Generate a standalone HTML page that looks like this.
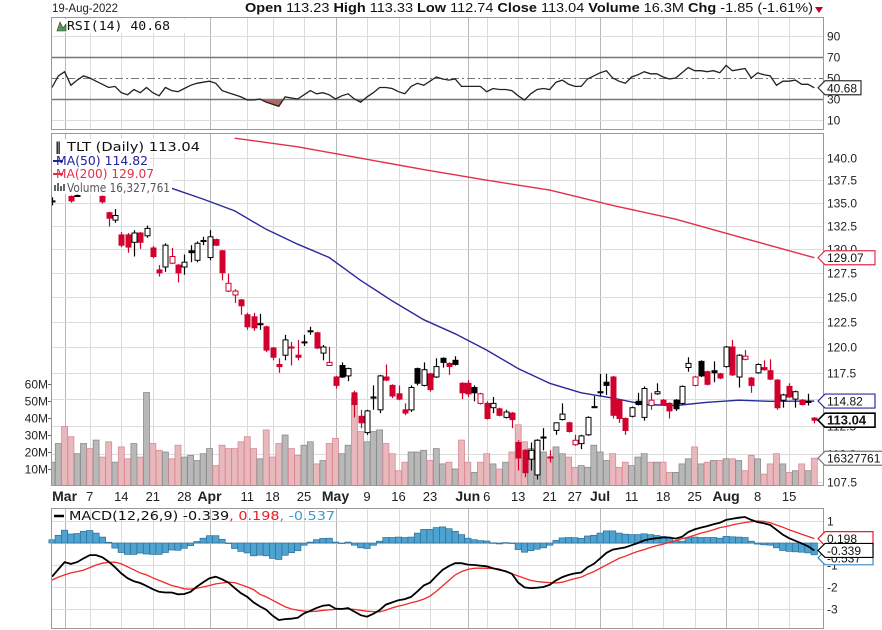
<!DOCTYPE html>
<html><head><meta charset="utf-8"><style>
html,body{margin:0;padding:0;background:#fff;}
svg{display:block;}
text{font-family:"Liberation Sans",sans-serif;}
</style></head><body>
<svg id="chart" width="882" height="630" viewBox="0 0 882 630" xmlns="http://www.w3.org/2000/svg">
<rect x="0" y="0" width="882" height="630" fill="#fff"/>
<g id="grid"></g>
<g id="rsiG"></g>
<g id="volG" clip-path="url(#mainClip)"></g>
<g id="maG" clip-path="url(#mainClip)"></g>
<g id="candleG" clip-path="url(#mainClip)"></g>
<g id="macdG"></g>
<g id="axisG"></g>
<defs>
<clipPath id="mainClip"><rect x="51" y="133" width="772" height="352"/></clipPath>
<clipPath id="rsiLow"><rect x="51" y="99" width="772" height="30"/></clipPath>
<clipPath id="macdClip"><rect x="51" y="508" width="772" height="120"/></clipPath>
</defs>
<!-- header -->
<text x="52" y="12" font-size="12" fill="#222" textLength="66" lengthAdjust="spacingAndGlyphs">19-Aug-2022</text>
<text x="245" y="12" font-size="13" fill="#111" textLength="568" lengthAdjust="spacingAndGlyphs"><tspan font-weight="bold">Open</tspan> 113.23 <tspan font-weight="bold">High</tspan> 113.33 <tspan font-weight="bold">Low</tspan> 112.74 <tspan font-weight="bold">Close</tspan> 113.04 <tspan font-weight="bold">Volume</tspan> 16.3M <tspan font-weight="bold">Chg</tspan> -1.85 (-1.61%)</text>
<polygon points="815,7 823,7 819,13" fill="#c0002a"/>
<!-- legends -->
<g>
<rect x="54" y="19" width="132" height="14" fill="#fff"/>
<polygon points="57,31 60,22 63,28 66,24 66,31" fill="#5a9a5a" stroke="#333" stroke-width="0.6"/>
<text x="67" y="30" font-size="12" fill="#111" style="font-family:'DejaVu Sans Mono',monospace" textLength="103" lengthAdjust="spacingAndGlyphs">RSI(14) 40.68</text>
</g>
<g>
<rect x="52" y="139" width="150" height="14" fill="#fff"/>
<text x="55" y="151" font-size="12" fill="#111" style="font-family:'DejaVu Sans',sans-serif" font-weight="bold">‖</text>
<text x="67" y="151" font-size="12" fill="#111" style="font-family:'DejaVu Sans',sans-serif" textLength="133" lengthAdjust="spacingAndGlyphs">TLT (Daily) 113.04</text>
<rect x="52" y="154" width="98" height="13" fill="#fff"/>
<line x1="53" y1="161" x2="63" y2="161" stroke="#22229a" stroke-width="2"/>
<text x="56" y="165" font-size="12" fill="#22229a" style="font-family:'DejaVu Sans',sans-serif" textLength="92" lengthAdjust="spacingAndGlyphs">MA(50) 114.82</text>
<rect x="52" y="167" width="104" height="13" fill="#fff"/>
<line x1="53" y1="174" x2="63" y2="174" stroke="#e0304a" stroke-width="2"/>
<text x="56" y="178" font-size="12" fill="#e0304a" style="font-family:'DejaVu Sans',sans-serif" textLength="98" lengthAdjust="spacingAndGlyphs">MA(200) 129.07</text>
<rect x="52" y="180" width="120" height="14" fill="#fff"/>
<rect x="54" y="185" width="2" height="6" fill="#666"/><rect x="57" y="183" width="2" height="8" fill="#666"/><rect x="60" y="186" width="2" height="5" fill="#666"/><rect x="63" y="184" width="2" height="7" fill="#666"/>
<text x="67" y="192" font-size="12" fill="#555" style="font-family:'DejaVu Sans',sans-serif" textLength="103" lengthAdjust="spacingAndGlyphs">Volume 16,327,761</text>
</g>
<g>
<line x1="54" y1="516" x2="64" y2="516" stroke="#000" stroke-width="2.5"/>
<text x="69" y="520" font-size="12" style="font-family:'DejaVu Sans',sans-serif" textLength="266" lengthAdjust="spacingAndGlyphs"><tspan fill="#111">MACD(12,26,9) -0.339</tspan><tspan fill="#e8202a">, 0.198</tspan><tspan fill="#3c9ad0">, -0.537</tspan></text>
</g>
<g id="tagG"></g>
<script>
// ---------- data ----------
const open  = [135.2,136.5,136.8,135.7,135.8,136.6,136.5,136.4,135.7,133.9,133.1,131.5,131.5,130.7,131.7,131.4,130.1,127.8,128.1,128.5,128.3,128.1,129.8,128.8,130.9,129.1,131.0,129.8,125.6,125.2,124.7,123.2,123.0,122.3,122.0,119.9,118.3,119.2,120.0,119.2,120.5,121.6,121.4,119.4,118.2,117.1,118.2,117.2,115.6,113.4,111.9,115.2,114.0,117.1,116.3,115.5,114.0,114.0,117.9,116.3,117.4,117.1,118.9,118.4,118.7,116.5,116.5,116.1,114.6,114.6,114.2,114.1,113.3,113.7,111.0,110.3,109.5,108.1,111.5,109.7,112.1,113.1,112.8,110.8,110.9,111.7,114.3,115.7,116.6,117.1,114.9,113.2,113.4,114.8,113.3,114.4,115.5,114.9,114.6,114.9,114.6,118.0,116.3,118.6,117.6,117.7,117.4,118.1,120.0,117.1,118.8,117.0,117.5,118.0,117.7,116.8,114.9,116.2,115.0,114.9,114.8,113.23];
const high  = [135.6,137.0,137.0,135.8,135.9,137.0,136.9,136.8,135.8,134.0,134.3,131.8,131.7,132.0,131.8,132.5,130.3,128.3,130.6,130.1,128.4,129.4,130.4,130.8,131.3,132.0,131.1,129.9,127.4,125.8,124.8,123.4,123.4,123.3,122.1,120.0,118.9,121.2,120.5,120.7,121.2,122.0,121.5,120.2,120.0,117.2,118.5,118.0,115.8,114.0,114.0,116.3,117.3,118.3,116.4,116.3,114.6,116.3,118.0,118.5,117.5,118.9,119.0,118.5,119.1,116.6,116.8,116.3,115.6,114.8,115.2,114.2,114.0,113.8,111.2,110.4,111.0,111.3,112.3,110.3,112.8,114.6,112.9,111.7,111.7,113.4,115.3,117.4,117.4,117.2,115.0,113.3,114.3,115.6,116.2,115.6,116.5,115.0,114.7,115.0,116.3,119.0,117.2,118.7,117.7,118.6,117.5,120.1,120.7,119.3,119.7,117.1,118.4,118.7,118.8,116.9,115.5,116.5,115.8,115.0,115.5,113.33];
const low   = [134.7,136.0,136.2,135.0,135.7,136.2,136.0,136.0,134.9,132.4,132.8,130.2,129.6,129.2,130.0,131.2,129.0,127.1,127.6,128.4,126.5,127.3,128.6,128.6,130.4,128.8,130.3,126.7,125.5,124.4,123.2,121.7,121.6,121.7,119.5,118.7,117.5,118.7,118.2,118.7,120.1,121.2,119.8,118.7,118.2,116.0,117.0,116.7,113.3,112.3,111.7,114.0,113.7,116.7,115.1,114.9,113.5,113.8,116.3,116.2,115.7,117.0,118.0,117.3,118.2,115.0,115.2,114.8,114.5,113.1,113.7,113.4,113.2,112.3,108.5,107.9,108.5,107.7,110.3,109.2,111.7,113.0,111.9,110.7,110.4,111.6,114.2,115.3,115.4,113.2,112.8,111.7,113.3,114.4,113.0,114.0,115.4,114.4,113.2,113.9,114.5,117.6,116.2,117.1,116.3,116.6,116.9,118.0,117.2,116.1,118.7,115.6,117.4,117.7,116.8,114.0,114.2,115.1,114.2,114.4,114.4,112.74];
const close = [135.1,136.8,136.4,135.2,135.8,136.5,136.2,136.6,135.1,133.3,133.6,130.4,130.2,131.7,130.7,132.2,129.2,127.5,130.4,129.2,127.5,128.6,129.6,130.6,130.8,131.3,130.4,127.5,126.4,125.6,124.1,122.0,121.9,122.2,119.7,119.0,118.1,120.7,119.9,119.0,120.4,121.5,119.9,120.0,118.5,116.3,117.1,117.9,114.5,112.8,113.9,115.1,117.2,116.8,115.3,115.0,113.7,116.1,116.5,117.8,115.9,118.1,118.5,118.1,118.3,115.6,115.5,115.6,115.5,113.2,114.6,113.5,113.8,113.1,109.6,108.3,110.3,111.2,111.4,109.6,112.8,113.6,112.0,111.2,111.6,113.3,114.2,115.6,116.3,113.5,113.2,112.1,114.2,114.5,116.0,114.9,115.7,114.5,113.9,114.1,116.2,118.4,117.1,117.2,116.4,117.5,117.0,120.0,117.3,119.2,119.1,116.3,118.3,117.8,116.9,114.2,115.4,115.2,115.7,114.5,114.7,113.04];
const volume = [14,25,35,29,19,25,22,27,17,26,14,23,16,25,17,55,25,21,20,16,24,17,18,15,19,22,12,24,22,22,26,29,22,16,33,17,25,30,22,18,24,26,13,15,25,28,19,24,52,32,26,32,33,25,19,9,14,20,20,21,15,22,13,14,10,27,14,8,14,19,13,10,14,20,36,26,22,27,20,17,23,19,17,11,12,11,24,20,15,19,11,14,12,17,19,14,14,14,8,8,13,16,23,13,14,15,15,16,16,15,9,18,16,7,13,19,13,8,9,13,9,16.33];
const ma50Idx = [19,24,29,34,39,44,49,54,59,64,69,74,79,84,89,94,99,104,109,114,121];
const ma50Val = [136.6,135.4,134.1,132.1,130.5,129.1,126.7,124.6,122.7,121.3,119.7,117.9,116.5,115.6,115.1,114.5,114.4,114.7,114.9,114.8,114.82];
const ma200Idx = [29,39,49,59,69,79,89,99,109,121];
const ma200Val = [142.3,141.3,140.0,138.7,137.5,136.4,134.7,133.2,131.3,129.07];
const rsi = [41,52,56,43,48,52,50,47,44,41,42,36,34,39,36,41,36,33,41,38,37,40,43,45,46,47,45,38,36,34,32,29,29,30,27,25,23,32,31,30,34,38,35,36,34,30,33,35,30,27,32,36,41,41,40,37,35,42,45,43,47,51,49,48,49,42,42,42,42,37,40,39,39,38,33,29,35,39,40,39,46,48,44,42,42,49,52,55,57,50,47,45,51,53,56,54,54,51,49,50,55,60,57,57,56,57,55,62,57,58,59,50,55,53,52,43,47,47,48,44,44,40.68];
const macd = [-1.53,-1.2,-0.87,-0.95,-0.87,-0.7,-0.55,-0.55,-0.65,-0.85,-1.1,-1.38,-1.6,-1.74,-1.82,-1.95,-2.1,-2.22,-2.25,-2.25,-2.33,-2.32,-2.22,-1.98,-1.78,-1.6,-1.53,-1.65,-1.8,-2.05,-2.28,-2.45,-2.7,-2.88,-3.03,-3.3,-3.5,-3.46,-3.44,-3.4,-3.2,-3.08,-2.95,-2.85,-2.82,-2.98,-3.0,-2.96,-3.12,-3.28,-3.35,-3.22,-3.05,-2.8,-2.7,-2.6,-2.55,-2.45,-2.2,-1.93,-1.8,-1.5,-1.22,-1.05,-0.92,-0.92,-0.98,-1.0,-1.03,-1.06,-1.15,-1.22,-1.28,-1.4,-1.8,-2.02,-2.05,-2.03,-2.0,-1.9,-1.7,-1.55,-1.45,-1.38,-1.34,-1.1,-0.95,-0.7,-0.45,-0.3,-0.25,-0.2,-0.1,0.0,0.12,0.18,0.22,0.25,0.25,0.2,0.28,0.5,0.62,0.7,0.77,0.85,0.92,1.05,1.1,1.15,1.18,1.05,0.95,0.9,0.82,0.6,0.38,0.22,0.1,-0.02,-0.15,-0.339];
const signal = [-1.68,-1.55,-1.45,-1.36,-1.3,-1.23,-1.12,-1.0,-0.92,-0.88,-0.87,-0.95,-1.08,-1.22,-1.36,-1.45,-1.58,-1.7,-1.82,-1.93,-2.0,-2.08,-2.1,-2.05,-2.0,-1.93,-1.86,-1.82,-1.78,-1.8,-1.9,-2.0,-2.12,-2.33,-2.45,-2.6,-2.75,-2.9,-3.0,-3.05,-3.1,-3.12,-3.1,-3.06,-3.04,-3.02,-3.0,-3.0,-3.02,-3.06,-3.1,-3.12,-3.13,-3.05,-2.95,-2.87,-2.8,-2.72,-2.65,-2.55,-2.42,-2.2,-1.95,-1.7,-1.45,-1.3,-1.2,-1.15,-1.14,-1.15,-1.16,-1.18,-1.3,-1.4,-1.5,-1.6,-1.7,-1.75,-1.78,-1.8,-1.82,-1.78,-1.7,-1.62,-1.55,-1.42,-1.3,-1.15,-1.0,-0.85,-0.7,-0.6,-0.48,-0.38,-0.3,-0.2,-0.12,-0.05,0.03,0.1,0.2,0.27,0.35,0.45,0.52,0.6,0.7,0.75,0.82,0.88,0.93,0.97,1.0,0.98,0.92,0.82,0.72,0.6,0.5,0.4,0.3,0.198];
const dateTickIdx = [2,6,11,16,21,25,31,35,40,45,50,55,60,66,69,74,79,83,87,92,97,102,107,112,117];
const dateTickLabel = ["Mar","7","14","21","28","Apr","11","18","25","May","9","16","23","Jun","6","13","21","27","Jul","11","18","25","Aug","8","15"];
const monthTick = [true,false,false,false,false,true,false,false,false,true,false,false,false,true,false,false,false,false,true,false,false,false,true,false,false];
const priceTicks = [107.5,110,112.5,115,117.5,120,122.5,125,127.5,130,132.5,135,137.5,140];
const volTicks = [10,20,30,40,50,60];
const rsiTicks = [10,30,50,70,90];
const macdTicks = [1,0,-1,-2,-3];

// ---------- scales ----------
const L = 51, R = 823;
function xI(i){ return 52 + 6.3*i; }
function yP(p){ return 347 - 1225*Math.log(p/120); }
function yV(v){ return 486 - 1.7*v; }
function yR(r){ return 99 - (r-30)*1.05; }
function yM(m){ return 543 - 22*m; }
const NS = "http://www.w3.org/2000/svg";
function mk(tag, attrs, parent){
  const e = document.createElementNS(NS, tag);
  for (const k in attrs) e.setAttribute(k, attrs[k]);
  parent.appendChild(e);
  return e;
}
const grid = document.getElementById('grid');
const rsiG = document.getElementById('rsiG');
const volG = document.getElementById('volG');
const maG = document.getElementById('maG');
const candleG = document.getElementById('candleG');
const macdG = document.getElementById('macdG');
const axisG = document.getElementById('axisG');
const tagG = document.getElementById('tagG');

// vertical grid + date labels
dateTickIdx.forEach((di, k) => {
  const xx = Math.round(xI(di)) + 0.5;
  const col = monthTick[k] ? '#b8b8b8' : '#dcdcdc';
  [[17,129],[133,485],[508,628]].forEach(seg => {
    const ln = mk('line', {x1:xx, x2:xx, y1:seg[0], y2:seg[1], stroke:col, 'stroke-width':1}, grid);
    
    
  });
  const t = mk('text', {x:xI(di), y:501, 'text-anchor':'middle', 'font-size': monthTick[k]?14:13, 'font-weight': monthTick[k]?'bold':'normal', fill:'#222'}, axisG);
  t.textContent = dateTickLabel[k];
  
  
});

// price grid + labels
priceTicks.forEach(p => {
  const yy = Math.round(yP(p)) + 0.5;
  const ln = mk('line', {x1:L, x2:R, y1:yy, y2:yy, stroke:'#dcdcdc', 'stroke-width':1}, grid);
  
  
  const t = mk('text', {x:827, y:yy+4, 'font-size':12, fill:'#222'}, axisG);
  t.textContent = p.toFixed(1);
  
  
});
volTicks.forEach(v => {
  const yy = Math.round(yV(v)) + 0.5;
  const t = mk('text', {x:48, y:yy+4, 'font-size':12, fill:'#222', 'text-anchor':'end'}, axisG);
  t.textContent = v + 'M';
  
  
  const tk = mk('line', {x1:48, x2:51, y1:yy, y2:yy, stroke:'#666'}, axisG);
  
  
});

// RSI panel
rsiTicks.forEach(r => {
  const yy = Math.round(yR(r)) + 0.5;
  let attrs = {x1:L, x2:R, y1:yy, y2:yy, stroke:'#dcdcdc', 'stroke-width':1};
  if (r === 30 || r === 70) attrs = {x1:L, x2:R, y1:yy, y2:yy, stroke:'#777', 'stroke-width':1.5};
  if (r === 50) attrs = {x1:L, x2:R, y1:yy, y2:yy, stroke:'#777', 'stroke-width':1, 'stroke-dasharray':'8,3,2,3'};
  const ln = mk('line', attrs, rsiG);
  
  
  const t = mk('text', {x:827, y:yy+4, 'font-size':12, fill:'#222'}, axisG);
  t.textContent = r;
  
  
});
let rsiPts = rsi.map((r,i) => xI(i).toFixed(1)+','+yR(r).toFixed(1));
const rsiFill = mk('polygon', {points: xI(0)+','+yR(30)+' '+rsiPts.join(' ')+' '+xI(rsi.length-1)+','+yR(30), fill:'#a86a62', 'clip-path':'url(#rsiLow)'}, rsiG);


const rsiLine = mk('polyline', {points: rsiPts.join(' '), fill:'none', stroke:'#222', 'stroke-width':1.3}, rsiG);



// volume bars
volume.forEach((v,i) => {
  const down = i > 0 && close[i] < close[i-1];
  const y0 = yV(v);
  const b = mk('rect', {x:(xI(i)-3).toFixed(1), y:y0.toFixed(1), width:6, height:(486-y0).toFixed(1), fill: down?'#e9b8bd':'#b8b8b8', stroke: down?'#d98a94':'#8c8c8c', 'stroke-width':0.8}, volG);
  
  
});

// moving averages
const ma50Line = mk('polyline', {points: ma50Idx.map((d,k)=>xI(d).toFixed(1)+','+yP(ma50Val[k]).toFixed(1)).join(' '), fill:'none', stroke:'#2a2a9c', 'stroke-width':1.4}, maG);


const ma200Line = mk('polyline', {points: ma200Idx.map((d,k)=>xI(d).toFixed(1)+','+yP(ma200Val[k]).toFixed(1)).join(' '), fill:'none', stroke:'#e2304a', 'stroke-width':1.4}, maG);



// candles
close.forEach((c,i) => {
  const o = open[i], h = high[i], l = low[i];
  const red = i > 0 && c < close[i-1];
  const col = red ? '#d2002c' : '#000';
  const cx = Math.round(xI(i)) + 0.5;
  const w = mk('line', {x1:cx, x2:cx, y1:yP(h).toFixed(1), y2:yP(l).toFixed(1), stroke:col, 'stroke-width':1.2}, candleG);
  
  
  const top = yP(Math.max(o,c)), bot = yP(Math.min(o,c));
  const hollow = c > o;
  const bd = mk('rect', {x:cx-2.5, y:top.toFixed(1), width:5, height:Math.max(1,bot-top).toFixed(1), fill: hollow?'#fff':col, stroke:col, 'stroke-width':1}, candleG);
  
  
});

// MACD
macdTicks.forEach(m => {
  const yy = Math.round(yM(m)) + 0.5;
  const ln = mk('line', {x1:L, x2:R, y1:yy, y2:yy, stroke:'#dcdcdc', 'stroke-width':1}, grid);
  
  
  const t = mk('text', {x:827, y:yy+4, 'font-size':12, fill:'#222'}, axisG);
  t.textContent = m;
  
  
});
macd.forEach((m,i) => {
  const hv = m - signal[i];
  const y0 = yM(0), y1 = yM(hv);
  const b = mk('rect', {x:(xI(i)-3.15).toFixed(1), y:Math.min(y0,y1).toFixed(1), width:6.3, height:Math.max(0.5,Math.abs(y1-y0)).toFixed(1), fill:'#4fa3d1', stroke:'#2b6f98', 'stroke-width':0.7}, macdG);
  
  
});
const sigLine = mk('polyline', {points: signal.map((s,i)=>xI(i).toFixed(1)+','+yM(s).toFixed(1)).join(' '), fill:'none', stroke:'#f02a2a', 'stroke-width':1.3}, macdG);


const macdLine = mk('polyline', {points: macd.map((m,i)=>xI(i).toFixed(1)+','+yM(m).toFixed(1)).join(' '), fill:'none', stroke:'#000', 'stroke-width':1.8}, macdG);



// panel borders
[[17,129],[133,485],[508,628]].forEach(seg => {
  const r = mk('rect', {x:L+0.5, y:seg[0]+0.5, width:R-L, height:seg[1]-seg[0], fill:'none', stroke:'#999', 'stroke-width':1}, axisG);
  
  
});

// value tags
function tag(yc, txt, col, bold, w, name){
  const g = mk('g', {}, tagG);
  
  
  mk('polygon', {points:`818,${yc} 825,${yc-7} ${825+w},${yc-7} ${825+w},${yc+7} 825,${yc+7}`, fill:'#fff', stroke:col, 'stroke-width': bold?1.6:1.2}, g);
  const t = mk('text', {x:827, y:yc+4.5, 'font-size': bold?13:12, 'font-weight': bold?'bold':'normal', fill:'#111'}, g);
  t.textContent = txt;
}
tag(yR(rsi[rsi.length-1]), rsi[rsi.length-1].toFixed(2), '#333', false, 36, 'rsi-value-tag');
tag(yP(ma200Val[ma200Val.length-1]), ma200Val[ma200Val.length-1].toFixed(2), '#e2304a', false, 50, 'ma200-value-tag');
tag(yP(ma50Val[ma50Val.length-1]), ma50Val[ma50Val.length-1].toFixed(2), '#2a2a9c', false, 50, 'ma50-value-tag');
tag(yV(volume[volume.length-1]), '16327761', '#777', false, 60, 'volume-value-tag');
tag(yP(close[close.length-1]), close[close.length-1].toFixed(2), '#000', true, 50, 'close-value-tag');
tag(yM(macd[macd.length-1]-signal[signal.length-1])+3, (macd[macd.length-1]-signal[signal.length-1]).toFixed(3), '#3c8ac0', false, 48, 'histogram-value-tag');
tag(yM(signal[signal.length-1]), signal[signal.length-1].toFixed(3), '#e8202a', false, 48, 'signal-value-tag');
tag(yM(macd[macd.length-1]), macd[macd.length-1].toFixed(3), '#000', false, 48, 'macd-value-tag');
</script>
</svg>
</body></html>
